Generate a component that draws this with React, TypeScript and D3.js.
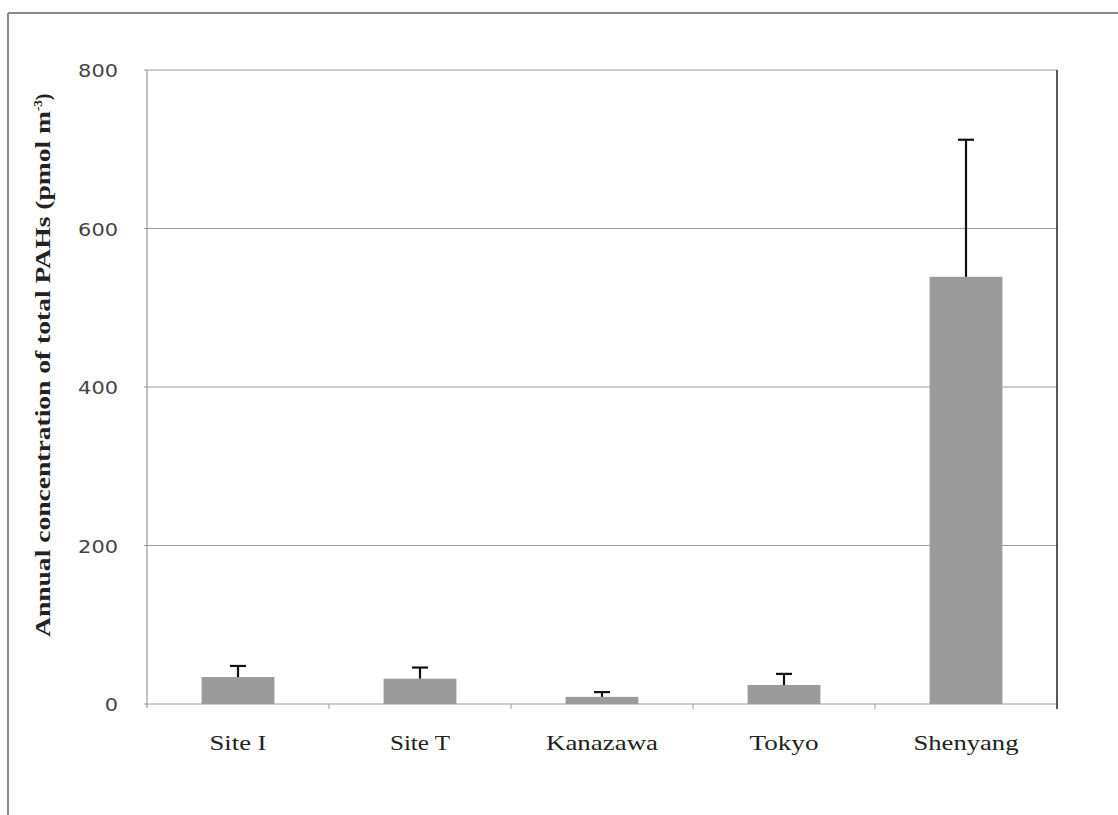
import React from "react";
import * as d3 from "d3";

const categories = ["Site I", "Site T", "Kanazawa", "Tokyo", "Shenyang"];
const means = [34, 32, 9, 24, 539];
const errors = [14, 14, 6, 14, 173];
const yTicks = [0, 200, 400, 600, 800];
const labelWidths = [57, 60, 112, 69, 105];

const W = 1118;
const H = 815;
const M = { left: 147, right: 1057, top: 70, bottom: 704 };

export default function App() {
  const x = d3
    .scaleBand<string>()
    .domain(categories)
    .range([M.left, M.right])
    .paddingInner(0.6)
    .paddingOuter(0.3);
  const band = d3.scaleBand<string>().domain(categories).range([M.left, M.right]);
  const y = d3.scaleLinear().domain([0, 800]).range([M.bottom, M.top]);

  const bw = x.bandwidth();

  return (
    <svg
      width={W}
      height={H}
      style={{ position: "absolute", left: 0, top: 0, background: "#fff" }}
    >
      {/* outer frame */}
      <line x1={8} y1={13} x2={W} y2={13} stroke="#8a8a8a" strokeWidth={2} />
      <line x1={8} y1={13} x2={8} y2={H} stroke="#8a8a8a" strokeWidth={2} />

      {/* gridlines */}
      {yTicks.map((t) => (
        <line
          key={"g" + t}
          x1={M.left - 3}
          x2={M.right}
          y1={y(t)}
          y2={y(t)}
          stroke="#999"
          strokeWidth={1.2}
        />
      ))}
      {/* left axis */}
      <line x1={M.left} x2={M.left} y1={M.top} y2={M.bottom + 4} stroke="#999" strokeWidth={1.2} />
      {/* right border */}
      <line x1={M.right} x2={M.right} y1={M.top} y2={M.bottom + 5} stroke="#222" strokeWidth={1.5} />
      {/* category ticks */}
      {categories.slice(1).map((c) => (
        <line
          key={"t" + c}
          x1={band(c)!}
          x2={band(c)!}
          y1={M.bottom}
          y2={M.bottom + 5}
          stroke="#999"
          strokeWidth={1}
        />
      ))}

      {/* y tick labels */}
      {yTicks.map((t) => {
        const s = String(t);
        return (
          <text
            key={"l" + t}
            x={118}
            y={y(t) + 7}
            textAnchor="end"
            fontFamily="DejaVu Sans, Verdana, sans-serif"
            fontSize={18}
            fill="#444"
            textLength={s.length * 13.3}
            lengthAdjust="spacingAndGlyphs"
          >
            {s}
          </text>
        );
      })}

      {/* bars */}
      {categories.map((c, i) => (
        <rect
          key={"b" + c}
          x={x(c)!}
          y={y(means[i])}
          width={bw}
          height={y(0) - y(means[i])}
          fill="#9b9b9b"
        />
      ))}

      {/* error bars */}
      {categories.map((c, i) => {
        const cx = x(c)! + bw / 2;
        const top = y(means[i] + errors[i]);
        return (
          <g key={"e" + c} stroke="#111" strokeWidth={2.2}>
            <line x1={cx} x2={cx} y1={y(means[i])} y2={top} />
            <line x1={cx - 8} x2={cx + 8} y1={top} y2={top} />
          </g>
        );
      })}

      {/* category labels */}
      {categories.map((c, i) => (
        <text
          key={"c" + c}
          x={x(c)! + bw / 2}
          y={750}
          textAnchor="middle"
          fontFamily="Liberation Serif, Times New Roman, serif"
          fontSize={21}
          fill="#222"
          textLength={labelWidths[i]}
          lengthAdjust="spacingAndGlyphs"
        >
          {c}
        </text>
      ))}

      {/* y axis title */}
      <text
        transform={`translate(50, 637) rotate(-90)`}
        textAnchor="start"
        fontFamily="Liberation Serif, Times New Roman, serif"
        fontWeight="bold"
        fontSize={20}
        fill="#222"
      >
        <tspan textLength={526} lengthAdjust="spacingAndGlyphs">
          Annual concentration of total PAHs (pmol m
        </tspan>
        <tspan dy={-8} fontSize={13}>-3</tspan>
        <tspan dy={8}>)</tspan>
      </text>
    </svg>
  );
}
